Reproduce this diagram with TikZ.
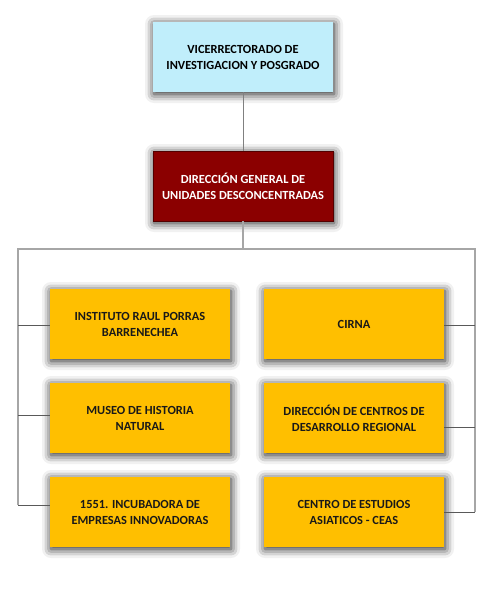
\documentclass[tikz,border=0pt]{standalone}
\usepackage{fontspec}
\setmainfont{Carlito}
\usepackage{xcolor}
\usepackage{tikz}
\usetikzlibrary{
	calc,
	positioning,
	shadows.blur
}

\definecolor{celeste}{HTML}{C0EEFB}
\definecolor{granate}{HTML}{8B0000}
\definecolor{ambar}{HTML}{FFBF00}

\tikzset{
	caja/.style={minimum width=180pt, minimum height=70pt, align=center,
		inner sep=2pt, font=\fontsize{12.4}{16}\selectfont\bfseries,
		blur shadow={shadow xshift=1pt, shadow yshift=-2pt, shadow blur radius=9pt, shadow opacity=90}},
	unidad/.style={caja, fill=ambar, text=black!90},
	barra/.style={draw=gray!70, line width=1.2pt},
	rama/.style={draw=black!65, line width=0.8pt}
}

\begin{document}
\begin{tikzpicture}[x=1pt, y=-1pt]
	\useasboundingbox (0,0) rectangle (500,600);
	% cabecera
	\node[caja, fill=celeste] (vice) at (243,57) {VICERRECTORADO DE\\INVESTIGACION Y POSGRADO};
	\node[caja, fill=granate, draw=black!40!granate, text=white] (dgud) at (243,186) {DIRECCIÓN GENERAL DE\\UNIDADES DESCONCENTRADAS};
	\draw[rama, draw=gray] (vice) -- (dgud);
	% unidades
	\foreach \n/\x/\y/\t in {
		irpb/140/324/{INSTITUTO RAUL PORRAS\\BARRENECHEA},
		mhn/140/418/{MUSEO DE HISTORIA\\NATURAL},
		inc/140/512/{1551. INCUBADORA DE\\EMPRESAS INNOVADORAS},
		cirna/354/324/{CIRNA},
		dcdr/354/418/{DIRECCIÓN DE CENTROS DE\\DESARROLLO REGIONAL},
		ceas/354/512/{CENTRO DE ESTUDIOS\\ASIATICOS - CEAS}}
	\node[unidad] (\n) at (\x,\y) {\t};
	% barra
	\coordinate (izq) at (18,249);
	\coordinate (der) at (475,249);
	\draw[barra] (dgud.south) -- (dgud.south |- izq);
	\draw[barra] (izq |- 0,505) -- (izq) -- (der) -- (der |- 0,512);
	\foreach \u/\dy in {irpb/-1, mhn/3, inc/7}
	\draw[rama] ([yshift=\dy pt]\u.west) -- ([yshift=\dy pt]\u.west -| izq);
	\foreach \u/\dy in {cirna/-1, dcdr/-9, ceas/0}
	\draw[rama] ([yshift=\dy pt]\u.east) -- ([yshift=\dy pt]\u.east -| der);
\end{tikzpicture}
\end{document}
